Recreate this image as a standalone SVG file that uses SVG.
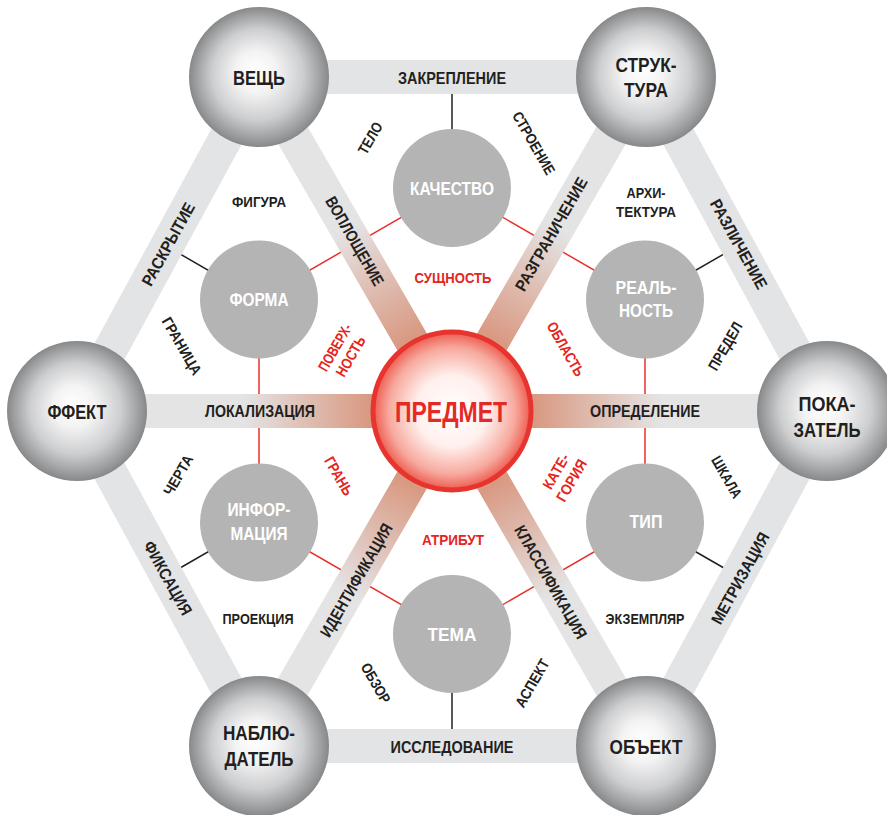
<svg xmlns="http://www.w3.org/2000/svg" width="887" height="815" viewBox="0 0 887 815">
<defs>
<radialGradient id="sphere" cx="0.5" cy="0.5" r="0.5" fx="0.47" fy="0.45">
<stop offset="0" stop-color="#ffffff"/>
<stop offset="0.3" stop-color="#f3f3f3"/>
<stop offset="0.65" stop-color="#cdced0"/>
<stop offset="0.9" stop-color="#9c9d9f"/>
<stop offset="1" stop-color="#87888a"/>
</radialGradient>
<radialGradient id="core" cx="0.5" cy="0.5" r="0.5">
<stop offset="0" stop-color="#ffffff"/>
<stop offset="0.45" stop-color="#fff0ed"/>
<stop offset="0.8" stop-color="#f7a99e"/>
<stop offset="1" stop-color="#ee5a4e"/>
</radialGradient>
<linearGradient id="spoke" x1="0" y1="0" x2="1" y2="0">
<stop offset="0" stop-color="#d68e76"/>
<stop offset="0.22" stop-color="#d99a83"/>
<stop offset="0.55" stop-color="#e4e4e5"/>
<stop offset="1" stop-color="#e4e4e5"/>
</linearGradient>
</defs>
<style>
.band{fill:none;stroke:#e3e4e5;stroke-width:34}
.dk{stroke:#231f20;stroke-width:1.5}
.rd{fill:none;stroke:#e8312c;stroke-width:1.5}
.sp{fill:url(#sphere)}
.in{fill:#b4b4b4}
text{font-family:"Liberation Sans",Arial,sans-serif;font-weight:bold;text-anchor:middle;fill:#231f20}
.big{font-size:21px}
.bl{font-size:16.5px}
.sm{font-size:15px}
.red{fill:#e42521}
.wh{fill:#ffffff;font-size:18px}
</style>

<g id="connectors">
  <line class="dk" x1="452" y1="188" x2="452" y2="77"/>
  <line class="dk" x1="452" y1="634" x2="452" y2="746"/>
  <line class="dk" x1="259" y1="299.5" x2="163.6" y2="244.5"/>
  <line class="dk" x1="645" y1="299.5" x2="740.4" y2="244.5"/>
  <line class="dk" x1="259" y1="522.5" x2="163.6" y2="577.5"/>
  <line class="dk" x1="645" y1="522.5" x2="740.4" y2="577.5"/>
  <polygon class="rd" points="452,188 645,299.5 645,522.5 452,634 259,522.5 259,299.5"/>
  <polygon class="band" points="259,77 646,77 827,411 646,746 259,746 77,411"/>
  <g transform="translate(452,411)">
    <rect x="0" y="-17" width="380" height="34" fill="url(#spoke)" transform="rotate(180)"/>
    <rect x="0" y="-17" width="380" height="34" fill="url(#spoke)"/>
    <rect x="0" y="-17" width="385" height="34" fill="url(#spoke)" transform="rotate(-120)"/>
    <rect x="0" y="-17" width="385" height="34" fill="url(#spoke)" transform="rotate(-60)"/>
    <rect x="0" y="-17" width="385" height="34" fill="url(#spoke)" transform="rotate(120)"/>
    <rect x="0" y="-17" width="385" height="34" fill="url(#spoke)" transform="rotate(60)"/>
  </g>
</g>

<g id="edge-labels">
  <text class="bl" x="452" y="83.5" textLength="108" lengthAdjust="spacingAndGlyphs">ЗАКРЕПЛЕНИЕ</text>
  <text class="bl" x="452" y="752.5" textLength="123" lengthAdjust="spacingAndGlyphs">ИССЛЕДОВАНИЕ</text>
  <text class="bl" x="260" y="417" textLength="110" lengthAdjust="spacingAndGlyphs">ЛОКАЛИЗАЦИЯ</text>
  <text class="bl" x="645" y="417" textLength="110" lengthAdjust="spacingAndGlyphs">ОПРЕДЕЛЕНИЕ</text>
  <text class="bl" y="6" textLength="92" lengthAdjust="spacingAndGlyphs" transform="translate(168,244) rotate(-61)">РАСКРЫТИЕ</text>
  <text class="bl" y="6" textLength="82" lengthAdjust="spacingAndGlyphs" transform="translate(168,578) rotate(61)">ФИКСАЦИЯ</text>
  <text class="bl" y="6" textLength="100" lengthAdjust="spacingAndGlyphs" transform="translate(739,244) rotate(61)">РАЗЛИЧЕНИЕ</text>
  <text class="bl" y="6" textLength="102" lengthAdjust="spacingAndGlyphs" transform="translate(740,578) rotate(-61)">МЕТРИЗАЦИЯ</text>
  <text class="bl" y="6" textLength="100" lengthAdjust="spacingAndGlyphs" transform="translate(355,241) rotate(60)">ВОПЛОЩЕНИЕ</text>
  <text class="bl" y="6" textLength="128" lengthAdjust="spacingAndGlyphs" transform="translate(551,234) rotate(-60)">РАЗГРАНИЧЕНИЕ</text>
  <text class="bl" y="6" textLength="128" lengthAdjust="spacingAndGlyphs" transform="translate(356,580) rotate(-60)">ИДЕНТИФИКАЦИЯ</text>
  <text class="bl" y="6" textLength="128" lengthAdjust="spacingAndGlyphs" transform="translate(551,582) rotate(60)">КЛАССИФИКАЦИЯ</text>
</g>

<g id="free-labels">
  <text class="sm" y="5.5" textLength="34" lengthAdjust="spacingAndGlyphs" transform="translate(370,138) rotate(-60)">ТЕЛО</text>
  <text class="sm" y="5.5" textLength="70" lengthAdjust="spacingAndGlyphs" transform="translate(534,143) rotate(60)">СТРОЕНИЕ</text>
  <text class="sm" x="259" y="207" textLength="54" lengthAdjust="spacingAndGlyphs">ФИГУРА</text>
  <text class="sm" x="646" y="198" textLength="39" lengthAdjust="spacingAndGlyphs">АРХИ-</text>
  <text class="sm" x="646" y="217" textLength="60" lengthAdjust="spacingAndGlyphs">ТЕКТУРА</text>
  <text class="sm" y="5.5" textLength="64" lengthAdjust="spacingAndGlyphs" transform="translate(182,346) rotate(60)">ГРАНИЦА</text>
  <text class="sm" y="5.5" textLength="53" lengthAdjust="spacingAndGlyphs" transform="translate(725,346) rotate(-60)">ПРЕДЕЛ</text>
  <text class="sm" y="5.5" textLength="44" lengthAdjust="spacingAndGlyphs" transform="translate(178,475) rotate(-60)">ЧЕРТА</text>
  <text class="sm" y="5.5" textLength="46" lengthAdjust="spacingAndGlyphs" transform="translate(727,477) rotate(60)">ШКАЛА</text>
  <text class="sm" x="258" y="624" textLength="71" lengthAdjust="spacingAndGlyphs">ПРОЕКЦИЯ</text>
  <text class="sm" x="645" y="624" textLength="79" lengthAdjust="spacingAndGlyphs">ЭКЗЕМПЛЯР</text>
  <text class="sm" y="5.5" textLength="44" lengthAdjust="spacingAndGlyphs" transform="translate(376,683) rotate(60)">ОБЗОР</text>
  <text class="sm" y="5.5" textLength="53" lengthAdjust="spacingAndGlyphs" transform="translate(532,683) rotate(-60)">АСПЕКТ</text>
  <text class="sm red" x="453" y="283" textLength="77" lengthAdjust="spacingAndGlyphs">СУЩНОСТЬ</text>
  <text class="sm red" x="453" y="545" textLength="62" lengthAdjust="spacingAndGlyphs">АТРИБУТ</text>
  <text class="sm red" y="5.5" textLength="60" lengthAdjust="spacingAndGlyphs" transform="translate(566,349) rotate(60)">ОБЛАСТЬ</text>
  <text class="sm red" y="5.5" textLength="42" lengthAdjust="spacingAndGlyphs" transform="translate(339,476) rotate(60)">ГРАНЬ</text>
  <g transform="translate(343,352) rotate(-60)">
    <text class="sm red" y="-4" textLength="52" lengthAdjust="spacingAndGlyphs">ПОВЕРХ-</text>
    <text class="sm red" y="14" textLength="44" lengthAdjust="spacingAndGlyphs">НОСТЬ</text>
  </g>
  <g transform="translate(564,476) rotate(-60)">
    <text class="sm red" y="-4" textLength="38" lengthAdjust="spacingAndGlyphs">КАТЕ-</text>
    <text class="sm red" y="14" textLength="46" lengthAdjust="spacingAndGlyphs">ГОРИЯ</text>
  </g>
</g>

<g id="node-kachestvo"><circle class="in" cx="452" cy="188" r="59"/><text class="wh" x="452" y="194.5" textLength="84" lengthAdjust="spacingAndGlyphs">КАЧЕСТВО</text></g>
<g id="node-forma"><circle class="in" cx="259" cy="299.5" r="59"/><text class="wh" x="259" y="305.5" textLength="59" lengthAdjust="spacingAndGlyphs">ФОРМА</text></g>
<g id="node-realnost"><circle class="in" cx="645" cy="299.5" r="59"/><text class="wh" x="646" y="294" textLength="61" lengthAdjust="spacingAndGlyphs">РЕАЛЬ-</text><text class="wh" x="646" y="316.5" textLength="54" lengthAdjust="spacingAndGlyphs">НОСТЬ</text></g>
<g id="node-informacia"><circle class="in" cx="259" cy="522.5" r="59"/><text class="wh" x="259" y="516" textLength="63" lengthAdjust="spacingAndGlyphs">ИНФОР-</text><text class="wh" x="259" y="539.5" textLength="57" lengthAdjust="spacingAndGlyphs">МАЦИЯ</text></g>
<g id="node-tip"><circle class="in" cx="645" cy="522.5" r="59"/><text class="wh" x="646" y="527.5" textLength="33" lengthAdjust="spacingAndGlyphs">ТИП</text></g>
<g id="node-tema"><circle class="in" cx="452" cy="634" r="59"/><text class="wh" x="452" y="640.5" textLength="49" lengthAdjust="spacingAndGlyphs">ТЕМА</text></g>

<g id="node-veshch"><circle class="sp" cx="259" cy="77" r="70"/><text class="big" x="259" y="84.5" textLength="52" lengthAdjust="spacingAndGlyphs">ВЕЩЬ</text></g>
<g id="node-struktura"><circle class="sp" cx="646" cy="77" r="70"/><text class="big" x="646" y="72" textLength="61" lengthAdjust="spacingAndGlyphs">СТРУК-</text><text class="big" x="646" y="96.5" textLength="44" lengthAdjust="spacingAndGlyphs">ТУРА</text></g>
<g id="node-pokazatel"><circle class="sp" cx="827" cy="411" r="70"/><text class="big" x="827" y="411" textLength="57" lengthAdjust="spacingAndGlyphs">ПОКА-</text><text class="big" x="827" y="436.5" textLength="67" lengthAdjust="spacingAndGlyphs">ЗАТЕЛЬ</text></g>
<g id="node-obekt"><circle class="sp" cx="646" cy="746" r="70"/><text class="big" x="646" y="753.5" textLength="73" lengthAdjust="spacingAndGlyphs">ОБЪЕКТ</text></g>
<g id="node-nabludatel"><circle class="sp" cx="259" cy="746" r="70"/><text class="big" x="259" y="740" textLength="72" lengthAdjust="spacingAndGlyphs">НАБЛЮ-</text><text class="big" x="259" y="765.5" textLength="69" lengthAdjust="spacingAndGlyphs">ДАТЕЛЬ</text></g>
<g id="node-ffekt"><circle class="sp" cx="77" cy="411" r="70"/><text class="big" x="77" y="418.5" textLength="59" lengthAdjust="spacingAndGlyphs">ФФЕКТ</text></g>

<g id="node-predmet"><circle cx="452" cy="411" r="79" fill="url(#core)" stroke="#e8342e" stroke-width="5"/><text x="451" y="421.5" font-size="30" style="fill:#e42a26" textLength="112" lengthAdjust="spacingAndGlyphs">ПРЕДМЕТ</text></g>
</svg>
